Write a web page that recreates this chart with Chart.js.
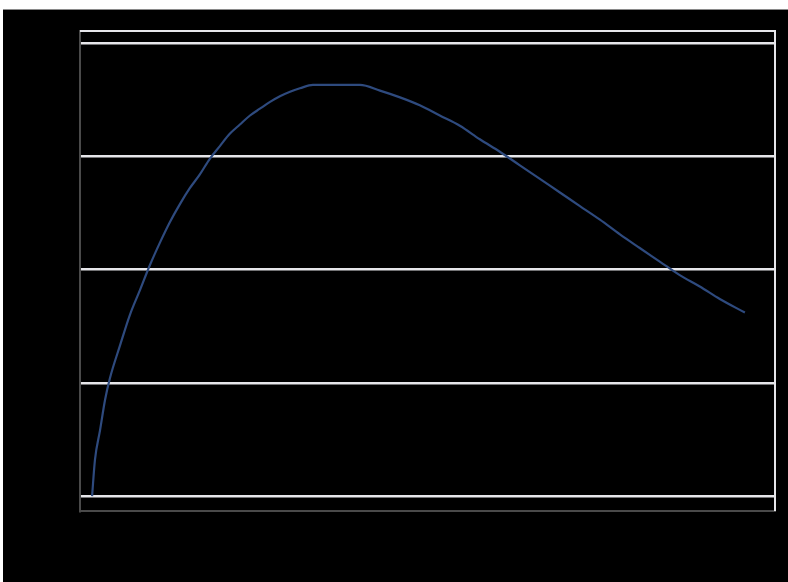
<!DOCTYPE html>
<html>
<head>
<meta charset="utf-8">
<script src="https://cdn.jsdelivr.net/npm/chart.js@4/dist/chart.umd.min.js"></script>
<style>
  html, body { margin: 0; padding: 0; background: #fff; }
  body { width: 788px; height: 582px; position: relative; overflow: hidden; }
  #box {
    position: absolute; left: 3px; top: 9px; width: 785px; height: 573px;
    background: #000; border-top: 1px solid #8a8a8a;
  }
  canvas { display: block; }
</style>
</head>
<body>
<div id="box"><canvas id="chart" width="785" height="572"></canvas></div>
<script>
// values
const xValues = [-4.5, -3.2, -0.9, 1.4, 3.6, 8.2, 12.7, 17.3, 21.8, 26.4, 30.9, 35.5, 40.0, 44.5,
  49.1, 53.6, 58.2, 62.7, 67.3, 71.8, 76.4, 80.9, 85.5, 90.0, 95.9, 106.5, 117.3, 126.4, 135.5, 144.5,
  153.6, 162.7, 171.8, 180.9, 190.0, 199.1, 208.2, 217.3, 226.4, 235.5, 244.5, 253.6, 262.7,
  271.8, 280.9, 292.3];
const yValues = [0, 3.2, 5.8, 8.5, 10.4, 13.3, 16.0, 18.2, 20.4, 22.4, 24.2, 25.8, 27.2, 28.4,
  29.8, 30.9, 32.0, 32.8, 33.6, 34.2, 34.8, 35.3, 35.7, 36.0, 36.3, 36.3, 36.3, 35.8, 35.2, 34.5,
  33.6, 32.7, 31.5, 30.4, 29.2, 28.0, 26.8, 25.6, 24.4, 23.1, 21.9, 20.7, 19.5,
  18.5, 17.4, 16.2];
const xTickValues = [0, 100, 200, 300];
const yTickValues = [0, 10, 20, 30, 40];

const points = xValues.map((x, i) => ({ x: x, y: yValues[i] }));

// white frame on top and right of the plot area
const frame = {
  id: 'frame',
  afterDraw(chart) {
    const a = chart.chartArea;
    const ctx = chart.ctx;
    ctx.save();
    ctx.strokeStyle = '#e6e6ea';
    ctx.lineWidth = 2;
    ctx.beginPath();
    ctx.moveTo(a.left, a.top);
    ctx.lineTo(a.right, a.top);
    ctx.lineTo(a.right, a.bottom);
    ctx.stroke();
    ctx.restore();
  }
};

new Chart(document.getElementById('chart'), {
  type: 'line',
  data: {
    datasets: [{
      data: points,
      borderColor: '#2e4a7e',
      borderWidth: 2.2,
      pointRadius: 0,
      cubicInterpolationMode: 'monotone',
      fill: false
    }]
  },
  options: {
    responsive: false,
    animation: false,
    layout: { padding: { left: 77, top: 21, right: 13, bottom: 71 } },
    plugins: { legend: { display: false }, tooltip: { enabled: false } },
    scales: {
      x: {
        type: 'linear',
        min: -10,
        max: 306,
        afterBuildTicks: (scale) => { scale.ticks = xTickValues.map(v => ({ value: v })); },
        ticks: { display: false },
        grid: { display: false, drawTicks: false },
        border: { display: true, color: '#4a4a4a', width: 2 }
      },
      y: {
        min: -1.32,
        max: 41.06,
        afterBuildTicks: (scale) => { scale.ticks = yTickValues.map(v => ({ value: v })); },
        ticks: { display: false },
        grid: { color: '#e6e6ea', lineWidth: 2.5, drawTicks: false },
        border: { display: true, color: '#4a4a4a', width: 2 }
      }
    }
  },
  plugins: [frame]
});
</script>
</body>
</html>
